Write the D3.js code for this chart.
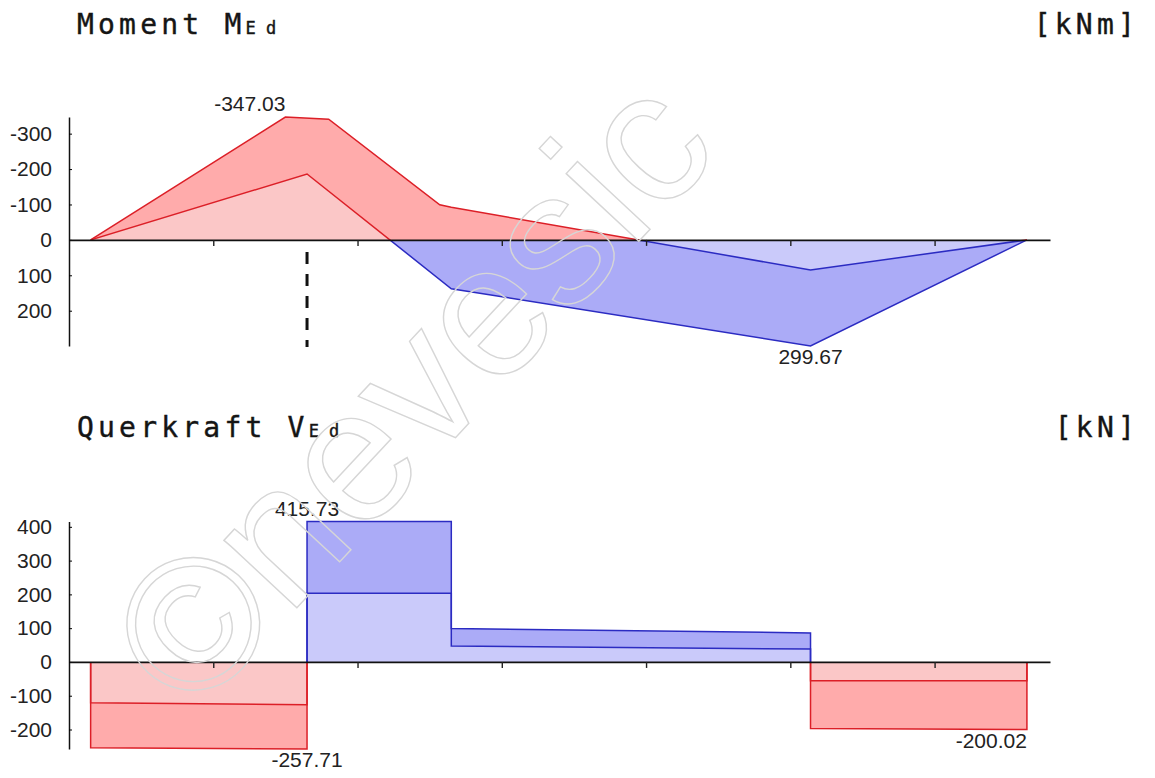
<!DOCTYPE html>
<html>
<head>
<meta charset="utf-8">
<script src="https://cdn.jsdelivr.net/npm/d3@7"></script>
<style>
  body { margin: 0; background: #fff; }
  svg { display: block; }
  .tick text { font-family: "Liberation Sans", Arial, sans-serif; font-size: 21px; fill: #222; }
  .title { font-family: "DejaVu Sans Mono", monospace; font-size: 28px; letter-spacing: 4.2px; fill: #151515; stroke: #151515; stroke-width: 0.4px; }
  .title .sub { font-size: 17px; letter-spacing: 0px; }
  .value-label { font-family: "Liberation Sans", Arial, sans-serif; font-size: 21px; fill: #222; }
  .watermark { font-family: "Liberation Sans", Arial, sans-serif; font-size: 188px; fill: none; stroke: #d6d6d6; stroke-width: 1.4px; }
</style>
</head>
<body>
<div id="chart"></div>
<script>
// beam stations [m] and envelope values
const beamTicks = [1, 2, 3, 4, 5, 6];
const supportX = 1.65;

// Moment M_Ed [kNm] (negative drawn upwards)
const momentMinX   = [0.15, 1.50, 1.80, 2.57, 2.65, 5.14, 6.64];
const momentMinVal = [0, -347.03, -341, -99, -92, 85, 0];
const momentMaxX   = [0.15, 1.65, 2.65, 5.14, 6.64];
const momentMaxVal = [0, -186, 138, 299.67, 0];
const momentTicks  = [-300, -200, -100, 0, 100, 200];
const momentLabelX   = [1.50, 5.14];
const momentLabelVal = [-347.03, 299.67];

// Querkraft V_Ed [kN]
const shearX      = [0.15, 1.65, 1.65, 2.65, 2.65, 5.14, 5.14, 6.64];
const shearMinVal = [-254, -257.71, 203, 203, 47, 38, -197, -200.02];
const shearMaxVal = [-121, -127, 415.73, 415.73, 99, 86, -56, -56];
const shearTicks  = [400, 300, 200, 100, 0, -100, -200];
const shearLabelX   = [1.65, 1.65, 6.64];
const shearLabelVal = [415.73, -257.71, -200.02];

const colors = {
    negDark: '#ffabab', negLight: '#fbc7c7', negLine: '#dc1f27',
    posDark: '#ababf7', posLight: '#cacafa', posLine: '#2b2bc2'
};

class DiagramChart {

    /**
     * one internal force diagram (moment or shear)
     */
    constructor(_config, _data) {
        this.config = {
            parentElement: _config.parentElement,
            id: _config.id,
            xRange: [69, 1050],
            yRange: _config.yRange,
            ticks: _config.ticks,
            titleY: _config.titleY,
            title: _config.title,
            symbol: _config.symbol,
            unit: _config.unit,
            labelAnchors: _config.labelAnchors,
            supportLine: _config.supportLine || false
        }
        this.data = _data;
        this.initVis();
    }

    initVis() {
        let vis = this;

        vis.xScale = d3.scaleLinear()
            .domain([0, 6.8])
            .range(vis.config.xRange);

        vis.yScale = d3.scaleLinear()
            .range(vis.config.yRange);

        vis.chart = vis.config.parentElement.append('g')
            .attr('class', 'diagram');

        // title with the subscript
        const title = vis.chart.append('text')
            .attr('class', 'title')
            .attr('x', 77)
            .attr('y', vis.config.titleY);
        title.append('tspan').text(vis.config.title + ' ' + vis.config.symbol);
        title.append('tspan').attr('class', 'sub').text('E d');

        vis.chart.append('text')
            .attr('class', 'title')
            .attr('x', 1139)
            .attr('y', vis.config.titleY)
            .attr('text-anchor', 'end')
            .text(vis.config.unit);

        vis.updateVis();
    }

    updateVis() {
        let vis = this;
        vis.minPts = vis.data.minX.map((x, i) => [x, vis.data.minVal[i]]);
        vis.maxPts = vis.data.maxX.map((x, i) => [x, vis.data.maxVal[i]]);
        vis.lo = d3.min(vis.data.minVal);
        vis.hi = d3.max(vis.data.maxVal);
        vis.yScale.domain([vis.lo, vis.hi]);
        vis.renderVis();
    }

    renderVis() {
        let vis = this;
        const x = vis.xScale, y = vis.yScale;
        const zeroY = y(0);

        // clip regions: negative values / positive values
        const defs = vis.chart.append('defs');
        const signClip = (name, edge) => {
            let top = Math.min(zeroY, edge), h = Math.abs(zeroY - edge);
            if (edge < zeroY) top -= 6;
            h += 6;
            defs.append('clipPath').attr('id', vis.config.id + name)
                .append('rect')
                .attr('x', 0).attr('width', 1155)
                .attr('y', top).attr('height', h);
        };
        signClip('-neg', y(vis.lo));
        signClip('-pos', y(vis.hi));
        const neg = `url(#${vis.config.id}-neg)`, pos = `url(#${vis.config.id}-pos)`;

        const line = d3.line().x(d => x(d[0])).y(d => y(d[1]));
        const area = d3.area().x(d => x(d[0])).y0(zeroY).y1(d => y(d[1]));

        // band between both envelope lines
        const band = line(vis.minPts.concat(vis.maxPts.slice().reverse())) + 'Z';
        vis.chart.append('path').attr('d', band).attr('fill', colors.negDark).attr('clip-path', neg);
        vis.chart.append('path').attr('d', band).attr('fill', colors.posDark).attr('clip-path', pos);

        // part that both envelopes share
        vis.chart.append('path').attr('d', area(vis.maxPts)).attr('fill', colors.negLight).attr('clip-path', neg);
        vis.chart.append('path').attr('d', area(vis.minPts)).attr('fill', colors.posLight).attr('clip-path', pos);

        // outlines, closed down to the zero line
        const closed = pts => [[pts[0][0], 0]].concat(pts, [[pts[pts.length - 1][0], 0]]);
        [vis.minPts, vis.maxPts].forEach(pts => {
            vis.chart.append('path').attr('d', line(closed(pts)))
                .attr('fill', 'none').attr('stroke', colors.negLine).attr('stroke-width', 1.5)
                .attr('clip-path', neg);
            vis.chart.append('path').attr('d', line(closed(pts)))
                .attr('fill', 'none').attr('stroke', colors.posLine).attr('stroke-width', 1.5)
                .attr('clip-path', pos);
        });

        // axes
        const yAxis = d3.axisLeft(y)
            .tickValues(vis.config.ticks)
            .tickSizeInner(-3)
            .tickSizeOuter(0)
            .tickPadding(17)
            .tickFormat(d => String(d));
        const xAxis = d3.axisBottom(x)
            .tickValues(beamTicks)
            .tickSizeInner(6)
            .tickSizeOuter(0)
            .tickFormat('');

        vis.chart.append('g')
            .attr('transform', `translate(${vis.config.xRange[0]},0)`)
            .call(yAxis)
            .call(g => g.select('.domain').attr('stroke', '#111').attr('stroke-width', 1.5));

        vis.chart.append('g')
            .attr('transform', `translate(0,${zeroY})`)
            .call(xAxis)
            .call(g => g.select('.domain').attr('stroke', '#111').attr('stroke-width', 1.8))
            .call(g => g.selectAll('.tick line').attr('stroke', '#222').attr('stroke-width', 1.4));

        if (vis.config.supportLine) {
            vis.chart.append('line')
                .attr('x1', x(supportX)).attr('x2', x(supportX))
                .attr('y1', zeroY + 12).attr('y2', y(vis.hi) + 1)
                .attr('stroke', '#111')
                .attr('stroke-width', 3)
                .attr('stroke-dasharray', '12,10');
        }

        // extreme values
        vis.data.labelX.forEach((lx, i) => {
            const v = vis.data.labelVal[i];
            const py = y(v);
            vis.chart.append('text')
                .attr('class', 'value-label')
                .attr('x', x(lx))
                .attr('y', py < zeroY ? py - 6 : py + 18)
                .attr('text-anchor', vis.config.labelAnchors[i])
                .text(v.toFixed(2));
        });
    }
}

const svg = d3.select('#chart').append('svg')
    .attr('width', 1155)
    .attr('height', 778);

new DiagramChart({
    parentElement: svg, id: 'moment', yRange: [117, 346], ticks: momentTicks,
    titleY: 34, title: 'Moment', symbol: 'M', unit: '[kNm]',
    labelAnchors: ['end', 'middle'], supportLine: true
}, {minX: momentMinX, minVal: momentMinVal, maxX: momentMaxX, maxVal: momentMaxVal,
    labelX: momentLabelX, labelVal: momentLabelVal});

new DiagramChart({
    parentElement: svg, id: 'shear', yRange: [749, 521.5], ticks: shearTicks,
    titleY: 437, title: 'Querkraft', symbol: 'V', unit: '[kN]',
    labelAnchors: ['middle', 'middle', 'end']
}, {minX: shearX, minVal: shearMinVal, maxX: shearX, maxVal: shearMaxVal,
    labelX: shearLabelX, labelVal: shearLabelVal});

// faint copyright watermark across the picture
svg.append('text')
    .attr('class', 'watermark')
    .attr('text-anchor', 'middle')
    .attr('dy', '0.35em')
    .attr('transform', 'translate(410,390) rotate(-47)')
    .text('©nevesic');
</script>
</body>
</html>
